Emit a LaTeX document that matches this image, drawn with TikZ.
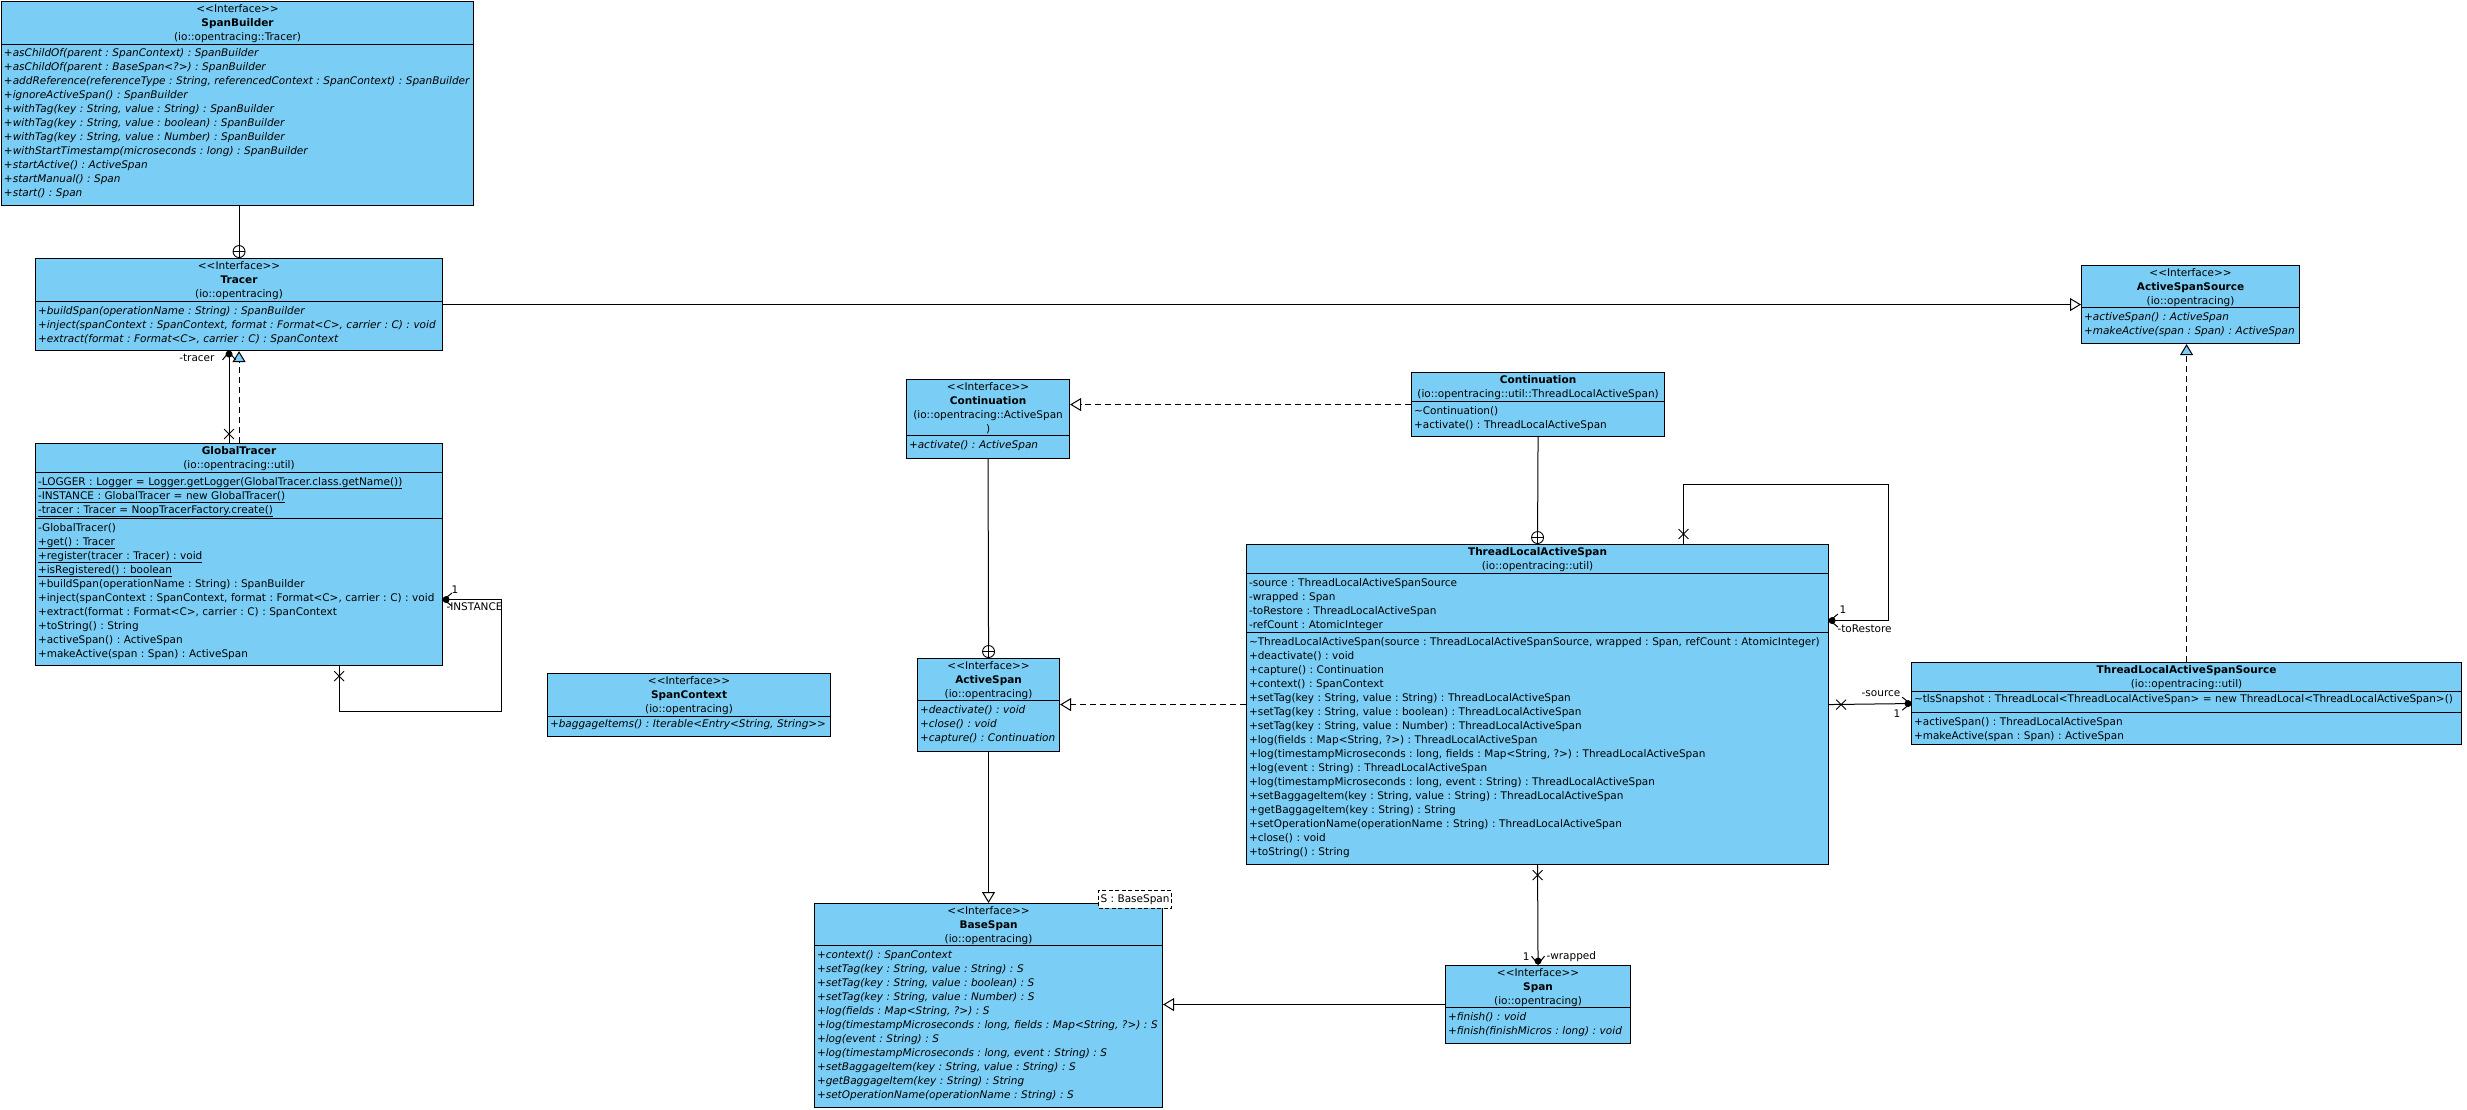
\documentclass[tikz,border=0pt]{standalone}
\usepackage{fontspec}
\setmainfont{DejaVu Sans}
\usetikzlibrary{arrows.meta,shapes.misc}
\definecolor{umlblue}{RGB}{122,206,245}
\newcommand{\umlfont}{\fontsize{10.5}{14}\selectfont\frenchspacing}
\newcommand{\stereo}{<{}<Interface>{}>}
\tikzset{
  classbox/.style={draw, fill=umlblue, line width=1.1pt, anchor=north west, inner sep=0pt},
  compline/.style={line width=0.9pt},
  header/.style={anchor=north, text width=600pt, align=center, inner sep=0pt, text height=10.8pt},
  members/.style={anchor=north west, text width=700pt, align=left, inner xsep=2.5pt, inner ysep=0pt, text height=12.5pt},
  opsit/.style={members, font=\umlfont\itshape},
  gen/.style={-{Triangle[length=11pt, width=13pt, fill=white]}},
  real/.style={gen, dash pattern=on 6pt off 4pt},
  realblue/.style={-{Triangle[length=11pt, width=13pt, fill=umlblue]}, dash pattern=on 6pt off 4pt},
  assoc/.style={-{Straight Barb[length=8pt, width=13pt]}},
  nestmark/.style={circle, draw, fill=white, line width=0.9pt, minimum size=12pt, inner sep=0pt, anchor=south,
    path picture={\draw[line width=0.9pt] (path picture bounding box.north) -- (path picture bounding box.south)
      (path picture bounding box.west) -- (path picture bounding box.east);}},
  xmark/.style={draw, cross out, minimum size=9pt, inner sep=0pt, line width=0.9pt},
  role/.style={inner sep=0pt},
  tparam/.style={draw, dash pattern=on 4pt off 2.5pt, fill=white, line width=0.9pt, inner xsep=2pt, inner ysep=0pt, minimum height=18pt, anchor=north east}
}
\begin{document}
\begin{tikzpicture}[x=1pt, y=-1pt, font=\umlfont, line width=1pt]
\useasboundingbox[fill=white] (0,0) rectangle (2467,1110);

% SpanBuilder interface
\node[classbox, minimum width=472pt, minimum height=204pt] (sb) at (1,1) {};
\draw[compline] ([yshift=-43pt]sb.north west) -- ([yshift=-43pt]sb.north east);
\node[header] (sb-head) at (sb.north) {\stereo\\\textbf{SpanBuilder}\\(io::opentracing::Tracer)};
\node[opsit] (sb-ops) at ([yshift=-43pt]sb.north west) {+asChildOf(parent : SpanContext) : SpanBuilder\\+asChildOf(parent : BaseSpan<?>) : SpanBuilder\\+addReference(referenceType : String, referencedContext : SpanContext) : SpanBuilder\\+ignoreActiveSpan() : SpanBuilder\\+withTag(key : String, value : String) : SpanBuilder\\+withTag(key : String, value : boolean) : SpanBuilder\\+withTag(key : String, value : Number) : SpanBuilder\\+withStartTimestamp(microseconds : long) : SpanBuilder\\+startActive() : ActiveSpan\\+startManual() : Span\\+start() : Span};

% Tracer interface
\node[classbox, minimum width=407pt, minimum height=92pt] (tracer) at (35,258) {};
\draw[compline] ([yshift=-43pt]tracer.north west) -- ([yshift=-43pt]tracer.north east);
\node[header] (tracer-head) at (tracer.north) {\stereo\\\textbf{Tracer}\\(io::opentracing)};
\node[opsit] (tracer-ops) at ([yshift=-43pt]tracer.north west) {+buildSpan(operationName : String) : SpanBuilder\\+inject(spanContext : SpanContext, format : Format<C>, carrier : C) : void\\+extract(format : Format<C>, carrier : C) : SpanContext};

% GlobalTracer class
\node[classbox, minimum width=407pt, minimum height=222pt] (gt) at (35,443) {};
\draw[compline] ([yshift=-29pt]gt.north west) -- ([yshift=-29pt]gt.north east);
\draw[compline] ([yshift=-75pt]gt.north west) -- ([yshift=-75pt]gt.north east);
\node[header] (gt-head) at (gt.north) {\textbf{GlobalTracer}\\(io::opentracing::util)};
\node[members] (gt-attr) at ([yshift=-29pt]gt.north west) {\underline{-LOGGER : Logger = Logger.getLogger(GlobalTracer.class.getName())}\\\underline{-INSTANCE : GlobalTracer = new GlobalTracer()}\\\underline{-tracer : Tracer = NoopTracerFactory.create()}};
\node[members] (gt-ops) at ([yshift=-75pt]gt.north west) {-GlobalTracer()\\\underline{+get() : Tracer}\\\underline{+register(tracer : Tracer) : void}\\\underline{+isRegistered() : boolean}\\+buildSpan(operationName : String) : SpanBuilder\\+inject(spanContext : SpanContext, format : Format<C>, carrier : C) : void\\+extract(format : Format<C>, carrier : C) : SpanContext\\+toString() : String\\+activeSpan() : ActiveSpan\\+makeActive(span : Span) : ActiveSpan};

% ActiveSpanSource interface
\node[classbox, minimum width=218pt, minimum height=78pt] (ass) at (2081,265) {};
\draw[compline] ([yshift=-42pt]ass.north west) -- ([yshift=-42pt]ass.north east);
\node[header] (ass-head) at (ass.north) {\stereo\\\textbf{ActiveSpanSource}\\(io::opentracing)};
\node[opsit] (ass-ops) at ([yshift=-42pt]ass.north west) {+activeSpan() : ActiveSpan\\+makeActive(span : Span) : ActiveSpan};

% Continuation interface
\node[classbox, minimum width=163pt, minimum height=79pt] (cont) at (906,379) {};
\draw[compline] ([yshift=-56pt]cont.north west) -- ([yshift=-56pt]cont.north east);
\node[header] (cont-head) at (cont.north) {\stereo\\\textbf{Continuation}\\(io::opentracing::ActiveSpan\\)};
\node[opsit] (cont-ops) at ([yshift=-56pt]cont.north west) {+activate() : ActiveSpan};

% Continuation class
\node[classbox, minimum width=253pt, minimum height=64pt] (tlcont) at (1411,372) {};
\draw[compline] ([yshift=-29pt]tlcont.north west) -- ([yshift=-29pt]tlcont.north east);
\node[header] (tlcont-head) at (tlcont.north) {\textbf{Continuation}\\(io::opentracing::util::ThreadLocalActiveSpan)};
\node[members] (tlcont-ops) at ([yshift=-29pt]tlcont.north west) {\textasciitilde Continuation()\\+activate() : ThreadLocalActiveSpan};

% SpanContext interface
\node[classbox, minimum width=283pt, minimum height=63pt] (sc) at (547,673) {};
\draw[compline] ([yshift=-43pt]sc.north west) -- ([yshift=-43pt]sc.north east);
\node[header] (sc-head) at (sc.north) {\stereo\\\textbf{SpanContext}\\(io::opentracing)};
\node[opsit, text height=11pt] (sc-ops) at ([yshift=-43pt]sc.north west) {+baggageItems() : Iterable<Entry<String, String>{}>};

% ActiveSpan interface
\node[classbox, minimum width=142pt, minimum height=93pt] (as) at (917,658) {};
\draw[compline] ([yshift=-42pt]as.north west) -- ([yshift=-42pt]as.north east);
\node[header] (as-head) at (as.north) {\stereo\\\textbf{ActiveSpan}\\(io::opentracing)};
\node[opsit] (as-ops) at ([yshift=-42pt]as.north west) {+deactivate() : void\\+close() : void\\+capture() : Continuation};

% BaseSpan interface
\node[classbox, minimum width=348pt, minimum height=204pt] (bs) at (814,903) {};
\draw[compline] ([yshift=-42pt]bs.north west) -- ([yshift=-42pt]bs.north east);
\node[header] (bs-head) at (bs.north) {\stereo\\\textbf{BaseSpan}\\(io::opentracing)};
\node[opsit] (bs-ops) at ([yshift=-42pt]bs.north west) {+context() : SpanContext\\+setTag(key : String, value : String) : S\\+setTag(key : String, value : boolean) : S\\+setTag(key : String, value : Number) : S\\+log(fields : Map<String, ?>) : S\\+log(timestampMicroseconds : long, fields : Map<String, ?>) : S\\+log(event : String) : S\\+log(timestampMicroseconds : long, event : String) : S\\+setBaggageItem(key : String, value : String) : S\\+getBaggageItem(key : String) : String\\+setOperationName(operationName : String) : S};
\node[tparam] (bs-param) at (1172,890) {S : BaseSpan};

% Span interface
\node[classbox, minimum width=185pt, minimum height=78pt] (span) at (1445,965) {};
\draw[compline] ([yshift=-42pt]span.north west) -- ([yshift=-42pt]span.north east);
\node[header] (span-head) at (span.north) {\stereo\\\textbf{Span}\\(io::opentracing)};
\node[opsit] (span-ops) at ([yshift=-42pt]span.north west) {+finish() : void\\+finish(finishMicros : long) : void};

% ThreadLocalActiveSpan class
\node[classbox, minimum width=582pt, minimum height=320pt] (tlas) at (1246,544) {};
\draw[compline] ([yshift=-29pt]tlas.north west) -- ([yshift=-29pt]tlas.north east);
\draw[compline] ([yshift=-88pt]tlas.north west) -- ([yshift=-88pt]tlas.north east);
\node[header] (tlas-head) at (tlas.north) {\textbf{ThreadLocalActiveSpan}\\(io::opentracing::util)};
\node[members] (tlas-attr) at ([yshift=-29pt]tlas.north west) {-source : ThreadLocalActiveSpanSource\\-wrapped : Span\\-toRestore : ThreadLocalActiveSpan\\-refCount : AtomicInteger};
\node[members] (tlas-ops) at ([yshift=-88pt]tlas.north west) {\textasciitilde ThreadLocalActiveSpan(source : ThreadLocalActiveSpanSource, wrapped : Span, refCount : AtomicInteger)\\+deactivate() : void\\+capture() : Continuation\\+context() : SpanContext\\+setTag(key : String, value : String) : ThreadLocalActiveSpan\\+setTag(key : String, value : boolean) : ThreadLocalActiveSpan\\+setTag(key : String, value : Number) : ThreadLocalActiveSpan\\+log(fields : Map<String, ?>) : ThreadLocalActiveSpan\\+log(timestampMicroseconds : long, fields : Map<String, ?>) : ThreadLocalActiveSpan\\+log(event : String) : ThreadLocalActiveSpan\\+log(timestampMicroseconds : long, event : String) : ThreadLocalActiveSpan\\+setBaggageItem(key : String, value : String) : ThreadLocalActiveSpan\\+getBaggageItem(key : String) : String\\+setOperationName(operationName : String) : ThreadLocalActiveSpan\\+close() : void\\+toString() : String};

% ThreadLocalActiveSpanSource class
\node[classbox, minimum width=550pt, minimum height=82pt] (tlass) at (1911,662) {};
\draw[compline] ([yshift=-29pt]tlass.north west) -- ([yshift=-29pt]tlass.north east);
\draw[compline] ([yshift=-50pt]tlass.north west) -- ([yshift=-50pt]tlass.north east);
\node[header] (tlass-head) at (tlass.north) {\textbf{ThreadLocalActiveSpanSource}\\(io::opentracing::util)};
\node[members, text height=11pt] (tlass-attr) at ([yshift=-29pt]tlass.north west) {\textasciitilde tlsSnapshot : ThreadLocal<ThreadLocalActiveSpan> = new ThreadLocal<ThreadLocalActiveSpan>()};
\node[members] (tlass-ops) at ([yshift=-50pt]tlass.north west) {+activeSpan() : ThreadLocalActiveSpan\\+makeActive(span : Span) : ActiveSpan};

% nesting
\node[nestmark] (nest-tracer) at (tracer.north) {};
\draw (tracer.north |- sb.south) -- (nest-tracer);
\node[nestmark] (nest-as) at (as.north) {};
\draw (cont.south) -- (nest-as);
\node[nestmark] (nest-tlas) at (tlas.north) {};
\draw (tlcont.south) -- (nest-tlas);

% generalization / realization
\draw[gen] (tracer.east) -- (tracer.east -| ass.west);
\draw[realblue] (gt.north) -- (tracer.south);
\draw[realblue] (tlass.north) -- (tlass.north |- ass.south);
\draw[real] (tlcont.west) -- (tlcont.west -| cont.east);
\draw[real] (tlas.west) -- (tlas.west -| as.east);
\draw[gen] (as.south) -- (as.south |- bs.north);
\draw[gen] (span.west) -- (span.west -| bs.east);

% GlobalTracer -> Tracer
\draw[assoc] ([xshift=-10pt]gt.north) -- ([xshift=-10pt]tracer.south);
\fill ([xshift=-10pt,yshift=-3pt]tracer.south) circle (3.5pt);
\node[xmark] (x-tracer) at ([xshift=-10pt,yshift=9pt]gt.north) {};
\node[role, anchor=east] (r-tracer) at (215,358) {-tracer};

% GlobalTracer INSTANCE
\coordinate (gt-loop) at (501,711);
\draw[assoc] ([xshift=100pt]gt.south) |- (gt-loop) |- ([yshift=-45pt]gt.east);
\fill ([xshift=3pt,yshift=-45pt]gt.east) circle (3.5pt);
\node[xmark] (x-inst) at ([xshift=100pt,yshift=-10pt]gt.south) {};
\node[role] (m-inst) at (455,590) {1};
\node[role, anchor=west] (r-inst) at (446,607) {-INSTANCE};

% ThreadLocalActiveSpan toRestore
\coordinate (tl-loop) at (1888,484);
\draw[assoc] ([xshift=146pt]tlas.north) |- (tl-loop) |- ([yshift=84pt]tlas.east);
\fill ([xshift=3pt,yshift=84pt]tlas.east) circle (3.5pt);
\node[xmark] (x-restore) at ([xshift=146pt,yshift=10pt]tlas.north) {};
\node[role] (m-restore) at (1843,610) {1};
\node[role, anchor=west] (r-restore) at (1837,629) {-toRestore};

% ThreadLocalActiveSpan source
\draw[assoc] (tlas.east) -- (tlass.west);
\fill ([xshift=-3pt]tlass.west) circle (3.5pt);
\node[xmark] (x-source) at ([xshift=12pt]tlas.east) {};
\node[role] (r-source) at (1881,694) {-source};
\node[role] (m-source) at (1897,714) {1};

% ThreadLocalActiveSpan wrapped
\draw[assoc] (tlas.south) -- (span.north);
\fill ([yshift=4pt]span.north) circle (3.5pt);
\node[xmark] (x-wrapped) at ([yshift=-10pt]tlas.south) {};
\node[role, anchor=east] (m-wrapped) at (1530,957) {1};
\node[role, anchor=west] (r-wrapped) at (1546,957) {-wrapped};
\end{tikzpicture}
\end{document}
